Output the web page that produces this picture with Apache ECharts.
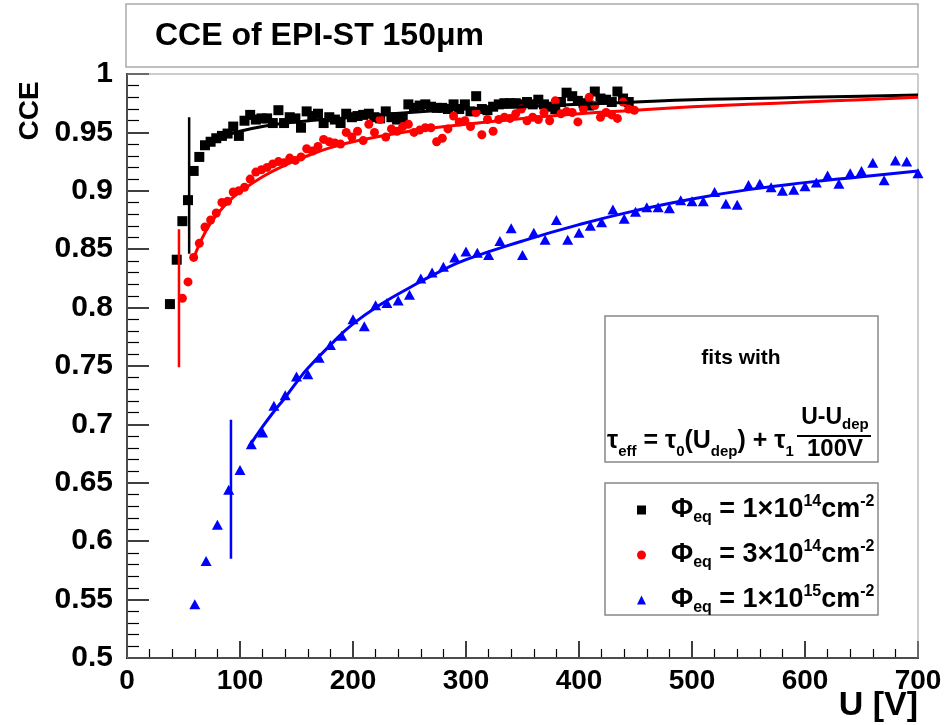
<!DOCTYPE html>
<html><head><meta charset="utf-8">
<script src="https://cdn.jsdelivr.net/npm/echarts@6/dist/echarts.min.js"></script>
<style>html,body{margin:0;padding:0;background:#fff}#c{width:951px;height:725px}</style>
</head><body><div id="c"></div><script>
// ---- data: [U (V), CCE] ----
const blackPoints = [
[38,0.803],[44,0.841],[49,0.874],[54,0.892],[59,0.917],[64,0.929],[69,0.939],[74,0.942],[79,0.945],[84,0.947],
[89,0.949],[94,0.955],[99,0.947],[104,0.960],[109,0.965],[114,0.961],[119,0.962],[124,0.962],[129,0.958],[134,0.969],
[139,0.958],[144,0.963],[149,0.962],[154,0.954],[159,0.968],[164,0.964],[169,0.966],[174,0.958],[179,0.963],[184,0.961],
[189,0.958],[194,0.966],[199,0.963],[204,0.964],[209,0.965],[214,0.966],[219,0.963],[224,0.962],[229,0.968],[234,0.963],
[239,0.961],[244,0.962],[249,0.974],[254,0.971],[259,0.973],[264,0.974],[269,0.972],[274,0.971],[279,0.971],[284,0.970],
[289,0.974],[294,0.970],[299,0.974],[304,0.968],[309,0.981],[314,0.970],[319,0.969],[324,0.972],[329,0.974],[334,0.975],
[339,0.975],[344,0.975],[349,0.974],[354,0.976],[359,0.974],[364,0.978],[369,0.974],[374,0.972],[379,0.970],[384,0.976],
[389,0.984],[394,0.981],[399,0.977],[404,0.975],[409,0.973],[414,0.985],[419,0.979],[424,0.978],[429,0.976],[434,0.985],
[439,0.979],[444,0.976]
];
const redPoints = [
[49,0.808],[54,0.822],[59,0.843],[64,0.855],[69,0.869],[74,0.875],[79,0.881],[84,0.890],[89,0.891],[94,0.899],
[99,0.900],[104,0.903],[109,0.910],[114,0.916],[119,0.918],[124,0.920],[129,0.923],[134,0.925],[139,0.924],[144,0.928],
[149,0.926],[154,0.929],[159,0.936],[164,0.934],[169,0.938],[174,0.944],[179,0.942],[184,0.941],[189,0.940],[194,0.950],
[199,0.946],[204,0.951],[209,0.943],[214,0.957],[219,0.950],[224,0.961],[229,0.946],[234,0.953],[239,0.951],[244,0.955],
[249,0.957],[254,0.950],[259,0.952],[264,0.954],[269,0.954],[274,0.942],[279,0.945],[284,0.953],[289,0.964],[294,0.959],
[299,0.960],[304,0.955],[309,0.967],[314,0.948],[319,0.961],[324,0.951],[329,0.961],[334,0.963],[339,0.962],[344,0.966],
[349,0.970],[354,0.960],[359,0.963],[364,0.961],[369,0.967],[374,0.960],[379,0.977],[384,0.966],[389,0.968],[394,0.967],
[399,0.959],[404,0.970],[409,0.980],[414,0.973],[419,0.963],[424,0.967],[429,0.965],[434,0.962],[439,0.976],[444,0.970],
[449,0.969]
];
const bluePoints = [
[60,0.546],[70,0.583],[80,0.614],[90,0.644],[100,0.661],[110,0.683],[120,0.693],[130,0.716],[140,0.725],[150,0.741],
[160,0.743],[170,0.757],[180,0.768],[190,0.776],[200,0.790],[210,0.784],[220,0.802],[230,0.804],[240,0.806],[250,0.811],
[260,0.825],[270,0.830],[280,0.835],[290,0.843],[300,0.848],[310,0.847],[320,0.845],[330,0.857],[340,0.868],[350,0.845],
[360,0.864],[370,0.858],[380,0.875],[390,0.858],[400,0.864],[410,0.870],[420,0.873],[430,0.884],[440,0.876],[450,0.882],
[460,0.886],[470,0.886],[480,0.885],[490,0.892],[500,0.891],[510,0.891],[520,0.899],[530,0.889],[540,0.888],[550,0.905],
[560,0.906],[570,0.903],[580,0.900],[590,0.901],[600,0.904],[610,0.907],[620,0.913],[630,0.906],[640,0.915],[650,0.917],
[660,0.924],[670,0.909],[680,0.926],[690,0.925],[700,0.915]
];
// fit curves
const blackFit = [[70,0.941],[80,0.945],[100,0.951],[125,0.956],[150,0.959],[200,0.963],[250,0.967],[300,0.970],[350,0.972],
[400,0.974],[450,0.976],[500,0.978],[550,0.979],[600,0.980],[650,0.981],[700,0.982]];
const redFit = [[60,0.845],[70,0.866],[80,0.880],[90,0.891],[100,0.899],[120,0.912],[140,0.922],[160,0.930],[180,0.937],[200,0.942],
[250,0.951],[300,0.957],[350,0.962],[400,0.966],[450,0.969],[500,0.972],[550,0.974],[600,0.976],[650,0.978],[700,0.980]];
const blueFit = [[108,0.681],[120,0.698],[130,0.711],[140,0.723],[150,0.736],[160,0.748],[180,0.768],[200,0.786],[225,0.803],
[250,0.817],[275,0.830],[300,0.841],[350,0.857],[400,0.871],[450,0.883],[500,0.893],[550,0.901],[600,0.907],[650,0.912],[700,0.917]];
// depletion-voltage markers
const blackDep = [[55,0.846],[55,0.963]];
const redDep = [[46,0.749],[46,0.867]];
const blueDep = [[92,0.585],[92,0.704]];
const seriesNames = ['phi1e14','phi3e14','phi1e15'];
const legendLabels = {
  phi1e14: '{g|}{t|Φ}{s|eq}{t| = 1×10}{p|14}{t|cm}{p|-2}',
  phi3e14: '{g|}{t|Φ}{s|eq}{t| = 3×10}{p|14}{t|cm}{p|-2}',
  phi1e15: '{g|}{t|Φ}{s|eq}{t| = 1×10}{p|15}{t|cm}{p|-2}'
};
const xTicks = {min:0, max:700, interval:100};
const yTicks = {min:0.5, max:1, interval:0.05};

const FF = '"Liberation Sans", Arial, Helvetica, sans-serif';
const chart = echarts.init(document.getElementById('c'), null, {renderer:'canvas'});
const rich = {
  g:{width:20},
  t:{fontSize:27, fontWeight:'bold', fontFamily:FF, color:'#000', lineHeight:32},
  s:{fontSize:16, fontWeight:'bold', fontFamily:FF, color:'#000', lineHeight:14, verticalAlign:'bottom'},
  p:{fontSize:16, fontWeight:'bold', fontFamily:FF, color:'#000', lineHeight:15, verticalAlign:'top'}
};
function lineSeries(data, color, w, smooth){
  return {type:'line', data, showSymbol:false, smooth:smooth, lineStyle:{color, width:w}, itemStyle:{color}, z:4, silent:true, animation:false};
}
const option = {
  animation:false,
  backgroundColor:'#fff',
  grid:{left:127, right:33, top:74, bottom:67, containLabel:false},
  xAxis:{type:'value', min:xTicks.min, max:xTicks.max, interval:xTicks.interval,
    axisLine:{show:true, onZero:false, lineStyle:{color:'#000', width:2}},
    axisTick:{show:true, inside:true, length:17, lineStyle:{color:'#000', width:1.5}},
    minorTick:{show:true, splitNumber:5, length:9, lineStyle:{color:'#000', width:1.2}},
    splitLine:{show:false},
    axisLabel:{color:'#000', fontSize:28, fontWeight:'bold', fontFamily:FF, margin:9}
  },
  yAxis:{type:'value', min:yTicks.min, max:yTicks.max, interval:yTicks.interval,
    axisLine:{show:true, onZero:false, lineStyle:{color:'#000', width:2}},
    axisTick:{show:true, inside:true, length:22, lineStyle:{color:'#000', width:1.5}},
    minorTick:{show:true, splitNumber:5, length:12, lineStyle:{color:'#000', width:1.2}},
    splitLine:{show:false},
    axisLabel:{color:'#000', fontSize:30, fontWeight:'bold', fontFamily:FF, margin:14,
      formatter:v=>String(+v.toFixed(2))}
  },
  legend:{show:true, orient:'vertical', left:637, top:494, padding:0, itemGap:13, itemWidth:9, itemHeight:9,
    data:[{name:seriesNames[0], icon:'rect'},{name:seriesNames[1], icon:'circle'},{name:seriesNames[2], icon:'triangle'}],
    formatter:n=>legendLabels[n],
    textStyle:{rich, padding:0}, selectedMode:false, z:10},
  series:[
    {name:seriesNames[0], type:'scatter', data:blackPoints, symbol:'rect', symbolSize:10, itemStyle:{color:'#000', opacity:1}, z:3},
    {name:seriesNames[1], type:'scatter', data:redPoints, symbol:'circle', symbolSize:9, itemStyle:{color:'#ff0000', opacity:1}, z:3},
    {name:seriesNames[2], type:'scatter', data:bluePoints, symbol:'triangle', symbolSize:[11,10], itemStyle:{color:'#0000ff', opacity:1}, z:3},
    lineSeries(blackFit,'#000',3,true),
    lineSeries(redFit,'#ff0000',3,true),
    lineSeries(blueFit,'#0000ff',3,true),
    lineSeries(blackDep,'#000',2.5,false),
    lineSeries(redDep,'#ff0000',2.5,false),
    lineSeries(blueDep,'#0000ff',2.5,false)
  ],
  graphic:[
    // plot frame (top/right in grey)
    {type:'rect', shape:{x:127, y:74, width:791, height:584}, style:{fill:null, stroke:'#999', lineWidth:1}, z:1, silent:true},
    // title box
    {type:'rect', shape:{x:126, y:4, width:792, height:63}, style:{fill:'#fff', stroke:'#aaa', lineWidth:1.5}, z:1, silent:true},
    {type:'text', x:155, y:36, style:{text:'CCE of EPI-ST 150μm', fontSize:32, fontWeight:'bold', fontFamily:FF, fill:'#000', verticalAlign:'middle'}, z:5},
    // axis titles
    {type:'text', x:30, y:111, rotation:Math.PI/2, style:{text:'CCE', fontSize:28, fontWeight:'bold', fontFamily:FF, fill:'#000', align:'center', verticalAlign:'middle'}, z:5},
    {type:'text', x:918, y:706, style:{text:'U [V]', fontSize:34, fontWeight:'bold', fontFamily:FF, fill:'#000', align:'right', verticalAlign:'middle'}, z:5},
    // fit formula box
    {type:'rect', shape:{x:605, y:316, width:273, height:146}, style:{fill:'#fff', stroke:'#888', lineWidth:1.5}, z:6, silent:true},
    {type:'text', x:741, y:358, style:{text:'fits with', fontSize:21, fontWeight:'bold', fontFamily:FF, fill:'#000', align:'center', verticalAlign:'middle'}, z:7},
    {type:'text', x:607, y:441, style:{text:'{t|τ}{s|eff}{t| = τ}{s|0}{t|(U}{d|dep}{t|) + τ}{s|1}', rich:Object.assign({}, rich, {
       t:{fontSize:25, fontWeight:'bold', fontFamily:FF, fill:'#000', lineHeight:36},
       s:{fontSize:15, fontWeight:'bold', fontFamily:FF, fill:'#000', lineHeight:23, verticalAlign:'bottom'},
       d:{fontSize:15, fontWeight:'bold', fontFamily:FF, fill:'#000', lineHeight:13, verticalAlign:'bottom'}}), verticalAlign:'middle'}, z:7},
    {type:'text', x:835, y:418, style:{text:'{t|U-U}{s|dep}', rich:Object.assign({}, rich, {
       t:{fontSize:23, fontWeight:'bold', fontFamily:FF, fill:'#000', lineHeight:28},
       s:{fontSize:15, fontWeight:'bold', fontFamily:FF, fill:'#000', lineHeight:14, verticalAlign:'bottom'}}), align:'center', verticalAlign:'middle'}, z:7},
    {type:'line', shape:{x1:797, y1:436, x2:871, y2:436}, style:{stroke:'#000', lineWidth:2}, z:7},
    {type:'text', x:835, y:449, style:{text:'100V', fontSize:24, fontWeight:'bold', fontFamily:FF, fill:'#000', align:'center', verticalAlign:'middle'}, z:7},
    // legend box
    {type:'rect', shape:{x:605, y:483, width:273, height:132}, style:{fill:'#fff', stroke:'#888', lineWidth:1.5}, z:6, silent:true}
  ]
};
chart.setOption(option);
</script></body></html>
